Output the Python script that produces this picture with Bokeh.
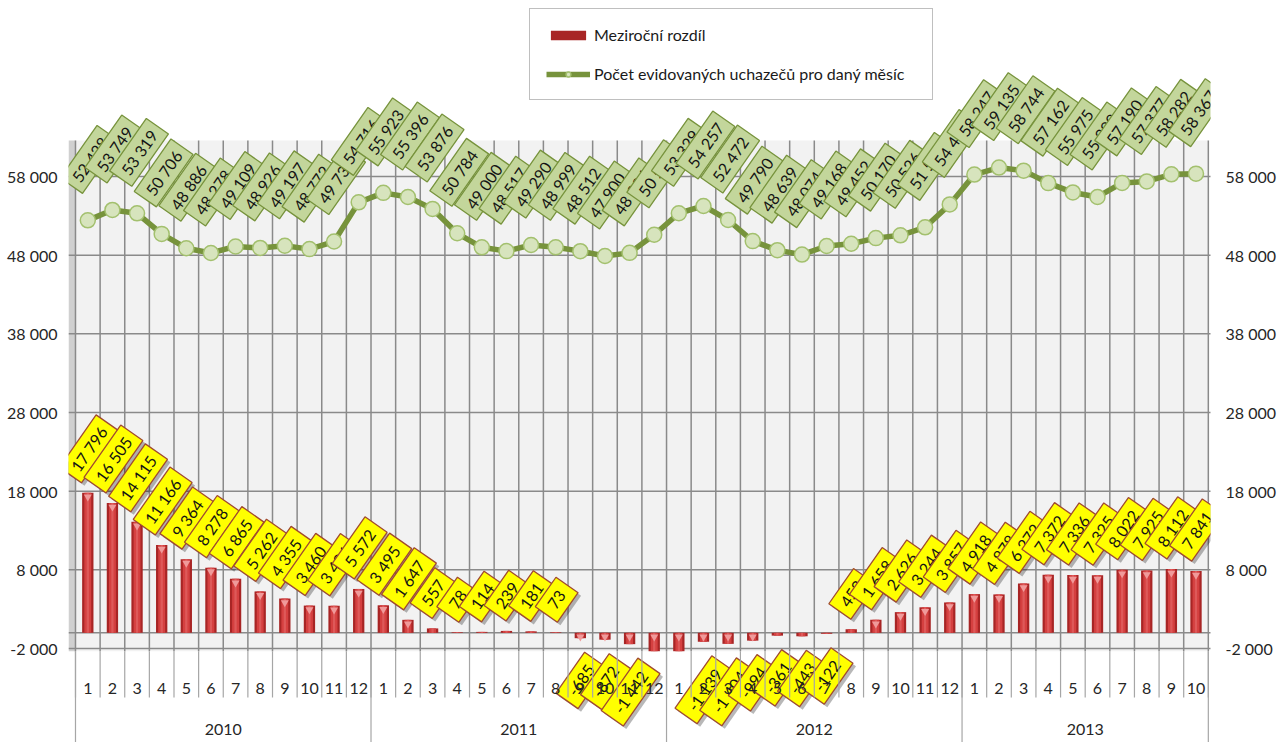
import math
from bokeh.plotting import figure
from bokeh.models import Range1d, LinearAxis, FixedTicker, ColumnDataSource, Legend, LegendItem
from bokeh.core.properties import value
from bokeh.embed import file_html
from bokeh.resources import INLINE

# ---------------- data ----------------
years = ["2010", "2011", "2012", "2013"]
months_per_year = [12, 12, 12, 10]
months = ["1", "2", "3", "4", "5", "6", "7", "8", "9", "10", "11", "12",
          "1", "2", "3", "4", "5", "6", "7", "8", "9", "10", "11", "12",
          "1", "2", "3", "4", "5", "6", "7", "8", "9", "10", "11", "12",
          "1", "2", "3", "4", "5", "6", "7", "8", "9", "10"]

uchazeci = [52428, 53749, 53319, 50706, 48886, 48278, 49109, 48926, 49197, 48772, 49736, 54716,
            55923, 55396, 53876, 50784, 49000, 48517, 49290, 48999, 48512, 47900, 48294, 50597,
            53329, 54257, 52472, 49790, 48639, 48074, 49168, 49452, 50170, 50526, 51538, 54454,
            58247, 59135, 58744, 57162, 55975, 55399, 57190, 57377, 58282, 58367]

rozdil = [17796, 16505, 14115, 11166, 9364, 8278, 6865, 5262, 4355, 3460, 3436, 5572,
          3495, 1647, 557, 78, 114, 239, 181, 73, -685, -872, -1442, -4119,
          -2594, -1139, -1404, -994, -361, -443, -122, 453, 1658, 2626, 3244, 3857,
          4918, 4878, 6272, 7372, 7336, 7325, 8022, 7925, 8112, 7841]

y_ticks = [-2000, 8000, 18000, 28000, 38000, 48000, 58000]
y_tick_labels = ["-2 000", "8 000", "18 000", "28 000", "38 000", "48 000", "58 000"]

series_bar = "Meziroční rozdíl"
series_line = "Počet evidovaných uchazečů pro daný měsíc"

# ---------------- layout ----------------
FONT = "Lato"
W, H = 1278, 742
BL, BR = 68, 66
FW = W - BL - BR
SLOT = 24.67
X0 = -0.5 - 7 / SLOT
X1 = X0 + FW / SLOT
PXX = FW / (X1 - X0)
PXY = 0.007867
Y1 = 632.3 / PXY
Y0 = Y1 - H / PXY
AXIS_MIN = y_ticks[0]
FLOOR = -2340
PLOT_TOP = 62580
N = len(months)


def y_of(ref_y):
    return Y1 - ref_y / PXY


def fmt(v):
    return f"{v:,}".replace(",", " ")


p = figure(width=W, height=H, x_range=Range1d(X0, X1), y_range=Range1d(Y0, Y1),
           output_backend="svg", toolbar_location=None,
           x_axis_location=None, y_axis_location=None,
           min_border_left=BL, min_border_right=BR, min_border_top=0, min_border_bottom=0,
           background_fill_color="white", border_fill_color="white", outline_line_color=None)
p.grid.visible = False

for side, standoff in (("left", 11), ("right", 15)):
    ax = LinearAxis(ticker=FixedTicker(ticks=y_ticks),
                    major_label_overrides={t: l for t, l in zip(y_ticks, y_tick_labels)},
                    axis_line_color=None, major_tick_line_color=None, minor_tick_line_color=None,
                    major_tick_in=0, major_tick_out=0, minor_tick_in=0, minor_tick_out=0,
                    major_label_standoff=standoff, major_label_text_font=FONT,
                    major_label_text_font_size="16px", major_label_text_color="#262626")
    p.add_layout(ax, side)

# plot area + wall
p.quad(left=-0.5, right=N - 0.5, bottom=FLOOR, top=PLOT_TOP, fill_color="#f2f2f2", line_color=None)
p.quad(left=X0, right=-0.5, bottom=FLOOR, top=PLOT_TOP, fill_color="#d0d0d0", line_color=None)

# gridlines
hy = y_ticks + [0]
p.segment(x0=[X0] * len(hy), x1=[N - 0.5 + 0.2] * len(hy), y0=hy, y1=hy,
          line_color="#8a8a8a", line_width=1.5)
bounds = [i - 0.5 for i in range(N + 1)]
p.segment(x0=bounds, x1=bounds, y0=[FLOOR] * len(bounds), y1=[PLOT_TOP] * len(bounds),
          line_color="#8a8a8a", line_width=1.5)

# bars
xs = list(range(N))
tops = [max(v, 0) for v in rozdil]
bots = [max(min(v, 0), FLOOR) for v in rozdil]
bar_src = ColumnDataSource(dict(x=xs, top=tops, bottom=bots))
bar_r = p.vbar(x="x", width=0.46, top="top", bottom="bottom", source=bar_src,
               fill_color="#a82525", line_color=None)
p.vbar(x="x", width=0.28, top="top", bottom="bottom", source=bar_src,
       fill_color="#d54040", line_color=None)
p.vbar(x="x", width=0.09, top="top", bottom="bottom", source=bar_src,
       fill_color="#e46a6a", fill_alpha=0.6, line_color=None)
cap_x = [i for i, v in enumerate(rozdil) if abs(v) > 600]
cap_y = [max(rozdil[i], 0) - 4 / PXY for i in cap_x]
p.scatter(x=cap_x, y=cap_y, marker="inverted_triangle", size=8,
          fill_color="#f09a9a", line_color=None)

# line
line_r = p.line(x=xs, y=uchazeci, line_width=5.5, line_color="#77933c")
mark_r = p.scatter(x=xs, y=uchazeci, size=15, fill_color="#d7e4bd",
                   line_color="#a3c06e", line_width=1.5)

THETA = math.radians(55)
BOX_W = 27


def box_len(s):
    return 22 + 7.0 * len(s)


def half_v(L):
    return 0.5 * L * math.sin(THETA) + 0.5 * BOX_W * math.cos(THETA)


def draw_label(x, y, s, L, fill, border, shadow=False):
    if shadow:
        ssrc = ColumnDataSource(dict(x=[x + 3 / PXX], y=[y - 3 / PXY], w=[L]))
        p.rect("x", "y", width="w", height=BOX_W, width_units="screen", height_units="screen",
               angle=THETA, fill_color="black", fill_alpha=0.28, line_color=None, source=ssrc)
    src = ColumnDataSource(dict(x=[x], y=[y], t=[s], w=[L]))
    p.rect("x", "y", width="w", height=BOX_W, width_units="screen", height_units="screen",
           angle=THETA, fill_color=fill, line_color=border, line_width=1.3, source=src)
    p.text("x", "y", text="t", angle=THETA, text_align="center", text_baseline="middle",
           text_font=value(FONT), text_font_size="16px", text_color="#141414", source=src)


# line labels
for i, v in enumerate(uchazeci):
    s = fmt(v)
    L = box_len(s)
    draw_label(i + 2 / PXX, v + (half_v(L) + 27) / PXY, s, L, "#c3d69b", "#77933c")

# bar labels
for i, v in enumerate(rozdil):
    if v < AXIS_MIN:
        continue
    s = fmt(v)
    L = box_len(s)
    if v >= 0:
        y = v + (half_v(L) + 10) / PXY
    else:
        y = v - (half_v(L) + 14) / PXY
    draw_label(i + 1 / PXX, y, s, L, "#ffff00", "#a04a30", shadow=True)

# category axis (months / years)
sep_bottom = y_of(697)
p.segment(x0=bounds, x1=bounds, y0=[FLOOR] * len(bounds), y1=[sep_bottom] * len(bounds),
          line_color="#a6a6a6", line_width=1.2)
ystarts = [-0.5]
for n in months_per_year:
    ystarts.append(ystarts[-1] + n)
p.segment(x0=ystarts, x1=ystarts, y0=[FLOOR] * len(ystarts), y1=[Y0] * len(ystarts),
          line_color="#a6a6a6", line_width=1.2)
p.text(x=xs, y=[y_of(688)] * N, text=months, text_align="center", text_baseline="middle",
       text_font=value(FONT), text_font_size="16px", text_color="#262626")
ycent = [(ystarts[k] + ystarts[k + 1]) / 2 for k in range(len(years))]
p.text(x=ycent, y=[y_of(729)] * len(years), text=years, text_align="center", text_baseline="middle",
       text_font=value(FONT), text_font_size="16px", text_color="#262626")

# legend
legend = Legend(items=[LegendItem(label=series_bar, renderers=[bar_r]),
                       LegendItem(label=series_line, renderers=[line_r, mark_r])],
                location=(461, 642), orientation="vertical",
                label_text_font=FONT, label_text_font_size="16px", label_text_color="#1a1a1a",
                glyph_width=44, glyph_height=12, label_height=19, label_width=322,
                spacing=20, padding=16,
                label_standoff=4, border_line_color="#7f7f7f", border_line_width=1.2,
                background_fill_color="white", background_fill_alpha=1.0)
p.add_layout(legend)

open("out.html", "w").write(file_html(p, INLINE))
